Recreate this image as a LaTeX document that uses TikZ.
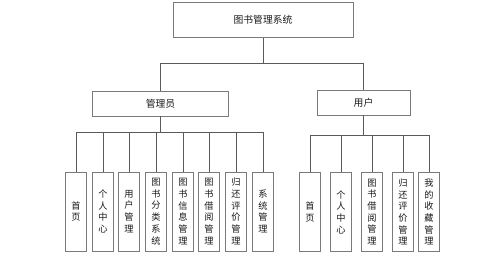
\documentclass[tikz,border=0pt]{standalone}
\usepackage{fontspec}
\setmainfont{Noto Sans CJK SC}
\usetikzlibrary{calc}
\definecolor{orgline}{HTML}{5A5A5A}
\definecolor{orgbox}{HTML}{7A7A7A}
\definecolor{orgink}{HTML}{1A1A1A}

\begin{document}
\begin{tikzpicture}[
    x=1pt, y=-1pt,
    every node/.style={text=orgink},
    topbox/.style={rectangle, draw=orgbox, fill=white, line width=0.9pt,
                   minimum width=180pt, minimum height=35pt, inner sep=0pt,
                   font=\fontsize{9.8}{11}\selectfont},
    rolebox/.style={rectangle, draw=orgbox, fill=white, line width=0.9pt,
                   minimum height=25pt, inner sep=0pt,
                   font=\fontsize{9.8}{11}\selectfont},
    leaf/.style={rectangle, draw=orgbox, fill=white, line width=0.9pt,
                 minimum width=21pt, minimum height=79pt, inner sep=0pt,
                 align=center, font=\fontsize{9.2}{11.7}\selectfont},
    link/.style={draw=orgline, line width=0.8pt},
  ]
  \useasboundingbox (0,0) rectangle (499,261);

  % top level
  \node[topbox] (root) at (263,20) {图书管理系统};
  \node[rolebox, minimum width=136pt] (admin) at (160.5,103.5) {管理员};
  \node[rolebox, minimum width=93pt]  (user)  at (363.5,102.5) {用户};

  \coordinate (J0) at (263,63);
  \draw[link] (root.south) -- (J0);
  \draw[link] (admin.north) |- (J0);
  \draw[link] (user.north) |- (J0);

  % admin functions
  \node[leaf] (A1) at (76,211.5)  {首\\页};
  \node[leaf] (A2) at (103,211.5) {个\\人\\中\\心};
  \node[leaf] (A3) at (129,211.5) {用\\户\\管\\理};
  \node[leaf] (A4) at (156,211.5) {图\\书\\分\\类\\系\\统};
  \node[leaf] (A5) at (183,211.5) {图\\书\\信\\息\\管\\理};
  \node[leaf] (A6) at (209,211.5) {图\\书\\借\\阅\\管\\理};
  \node[leaf] (A7) at (236,211.5) {归\\还\\评\\价\\管\\理};
  \node[leaf] (A8) at (263,211.5) {系\\统\\管\\理};

  \coordinate (JA) at (160.5,132);
  \draw[link] (admin.south) -- (JA);
  \draw[link] (A1.north) |- (JA);
  \draw[link] (A2.north) |- (JA);
  \draw[link] (A3.north) |- (JA);
  \draw[link] (A4.north) |- (JA);
  \draw[link] (A5.north) |- (JA);
  \draw[link] (A6.north) |- (JA);
  \draw[link] (A7.north) |- (JA);
  \draw[link] (A8.north) |- (JA);

  % user functions
  \node[leaf] (U1) at (310,212) {首\\页};
  \node[leaf] (U2) at (341,212) {个\\人\\中\\心};
  \node[leaf] (U3) at (372,212) {图\\书\\借\\阅\\管\\理};
  \node[leaf] (U4) at (403,212) {归\\还\\评\\价\\管\\理};
  \node[leaf] (U5) at (429,212) {我\\的\\收\\藏\\管\\理};

  \coordinate (JU) at (363.5,135);
  \draw[link] (user.south) -- (JU);
  \draw[link] (U1.north) |- (JU);
  \draw[link] (U2.north) |- (JU);
  \draw[link] (U3.north) |- (JU);
  \draw[link] (U4.north) |- (JU);
  \draw[link] (U5.north) |- (JU);
\end{tikzpicture}
\end{document}
